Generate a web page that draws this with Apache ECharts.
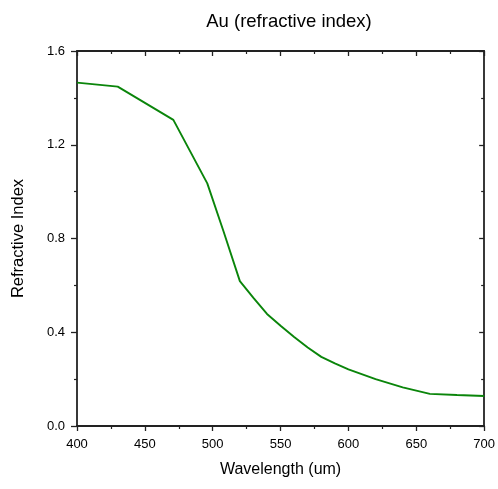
<!DOCTYPE html>
<html>
<head>
<meta charset="utf-8">
<script src="https://cdn.jsdelivr.net/npm/echarts@6/dist/echarts.min.js"></script>
<style>
  html, body { margin: 0; padding: 0; background: #fff; }
  #chart { width: 498px; height: 489px; }
</style>
</head>
<body>
<div id="chart"></div>
<script>
// Refractive index of gold versus wavelength
const wavelength = [400, 430, 471, 496, 508, 520, 530, 540, 550, 560, 570, 580, 590, 600, 620, 640, 660, 680, 700];
const refractiveIndex = [1.465, 1.448, 1.306, 1.035, 0.83, 0.618, 0.547, 0.478, 0.428, 0.38, 0.335, 0.295, 0.267, 0.242, 0.2, 0.165, 0.137, 0.132, 0.128];
const xTicks = [400, 450, 500, 550, 600, 650, 700];
const yTicks = [0.0, 0.4, 0.8, 1.2, 1.6];

const font = 'Liberation Sans, Arial, sans-serif';
const axisColor = '#222';

const chart = echarts.init(document.getElementById('chart'), null, { renderer: 'canvas' });

const baseAxis = {
  axisLine: { show: true, onZero: false, lineStyle: { color: axisColor, width: 1.8 } },
  splitLine: { show: false },
  minorSplitLine: { show: false }
};

chart.setOption({
  animation: false,
  backgroundColor: '#fff',
  title: {
    text: 'Au (refractive index)',
    left: 284,
    top: 7,
    textAlign: 'center',
    textStyle: { fontFamily: font, fontSize: 18.5, fontWeight: 'normal', color: '#000' }
  },
  grid: { left: 77, right: 13, top: 51, bottom: 63, containLabel: false },
  xAxis: [
    Object.assign({}, baseAxis, {
      type: 'value', min: 400, max: 700, interval: 50, position: 'bottom',
      name: 'Wavelength (um)', nameLocation: 'middle', nameGap: 36,
      nameTextStyle: { fontFamily: font, fontSize: 16, color: '#000' },
      axisTick: { show: true, inside: false, length: 5, lineStyle: { color: axisColor, width: 1.3 } },
      minorTick: { show: true, splitNumber: 2, length: 3, lineStyle: { color: axisColor, width: 1.2 } },
      axisLabel: { fontFamily: font, fontSize: 13, color: '#000', margin: 12,
        formatter: v => xTicks.includes(v) ? String(v) : '' }
    }),
    Object.assign({}, baseAxis, {
      type: 'value', min: 400, max: 700, interval: 50, position: 'top',
      axisTick: { show: true, inside: true, length: 5, lineStyle: { color: axisColor, width: 1.3 } },
      minorTick: { show: true, splitNumber: 2, length: 3, lineStyle: { color: axisColor, width: 1.2 } },
      axisLabel: { show: false }
    })
  ],
  yAxis: [
    Object.assign({}, baseAxis, {
      type: 'value', min: 0, max: 1.6, interval: 0.4, position: 'left',
      name: 'Refractive Index', nameLocation: 'middle', nameGap: 50,
      nameTextStyle: { fontFamily: font, fontSize: 16.5, color: '#000' },
      axisTick: { show: true, inside: false, length: 6, lineStyle: { color: axisColor, width: 1.3 } },
      minorTick: { show: true, splitNumber: 2, length: 3, lineStyle: { color: axisColor, width: 1.2 } },
      axisLabel: { fontFamily: font, fontSize: 13, color: '#000', margin: 12,
        formatter: v => {
          const t = yTicks.find(y => Math.abs(y - v) < 1e-9);
          return t === undefined ? '' : t.toFixed(1);
        } }
    }),
    Object.assign({}, baseAxis, {
      type: 'value', min: 0, max: 1.6, interval: 0.4, position: 'right',
      axisTick: { show: true, inside: true, length: 5, lineStyle: { color: axisColor, width: 1.3 } },
      minorTick: { show: true, splitNumber: 2, length: 3, lineStyle: { color: axisColor, width: 1.2 } },
      axisLabel: { show: false }
    })
  ],
  series: [{
    type: 'line',
    xAxisIndex: 0,
    yAxisIndex: 0,
    data: wavelength.map((w, i) => [w, refractiveIndex[i]]),
    showSymbol: false,
    smooth: false,
    lineStyle: { color: '#0a850a', width: 1.9 },
    itemStyle: { color: '#0a850a' }
  }]
});
</script>
</body>
</html>
